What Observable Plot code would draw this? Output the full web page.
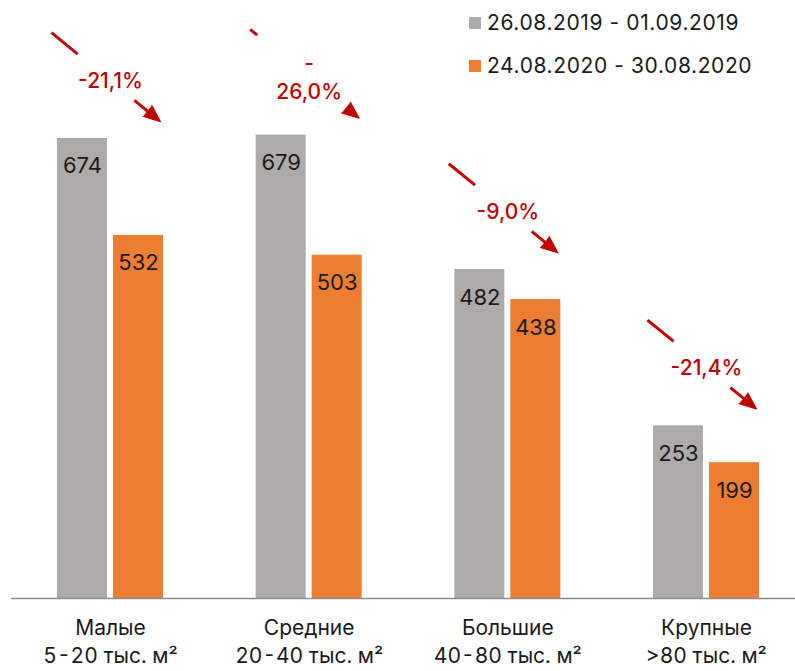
<!DOCTYPE html>
<html><head><meta charset="utf-8">
<script src="https://cdn.jsdelivr.net/npm/d3@7"></script>
<script src="https://cdn.jsdelivr.net/npm/@observablehq/plot@0.6"></script>
<style>
body{margin:0;background:#fff;font-family:Inter,sans-serif;}
#wrap{position:relative;width:795px;height:671px;}
.legend{position:absolute;left:469px;top:0;font-size:21px;letter-spacing:0.6px;color:#1a1a1a;}
.item{position:absolute;left:0;white-space:nowrap;display:flex;align-items:center;height:24px;}
.sw{width:12px;height:12px;margin-right:6px;margin-top:2px;}
</style></head><body><div id="wrap"></div>
<script>
const categories = ["Малые\n5-20 тыс. м²", "Средние\n20-40 тыс. м²", "Большие\n40-80 тыс. м²", "Крупные\n>80 тыс. м²"];
const seriesNames = ["26.08.2019 - 01.09.2019", "24.08.2020 - 30.08.2020"];
const values2019 = [674, 679, 482, 253];
const values2020 = [532, 503, 438, 199];
const changeLabels = ["-21,1%", "-\n26,0%", "-9,0%", "-21,4%"];

const colors = ["#AEAAAA", "#ED7D31"];
const red = "#C00000";
const ink = "#1a1a1a";

const rows = categories.map((c, i) => ({i, cat: c, v19: values2019[i], v20: values2020[i], change: changeLabels[i]}));

// bar geometry within a group (in group units)
const inner = 0.0151, outer = 0.2668;
// arrow geometry relative to group center and first-series value
const A = {u0: -0.297, u1: 0.252, up: 155, down: 24.6};
const pxPerU = 198.67, pxPerV = 0.6825;
const rot = Math.atan2((A.u1 - A.u0) * pxPerU, -(A.up - A.down) * pxPerV) * 180 / Math.PI;
const pt = (r, t) => ({x: r.i + A.u0 + (A.u1 - A.u0) * t, y: r.v19 + A.up + (A.down - A.up) * t});
const segs = [];
rows.forEach(r => {
  const multi = r.change.includes("\n");
  const g = multi ? [0.065, 0.9] : [0.24, 0.76];
  const a = pt(r, 0), b = pt(r, g[0]);
  segs.push({x1: a.x, y1: a.y, x2: b.x, y2: b.y});
  if (g[1] < 0.88) {
    const c = pt(r, g[1]), d = pt(r, 0.9);
    segs.push({x1: c.x, y1: c.y, x2: d.x, y2: d.y});
  }
});
const heads = rows.map(r => pt(r, 1));
const labels = rows.map(r => ({...pt(r, 0.5), x: r.i, text: r.change}));

const chart = Plot.plot({
  width: 795, height: 671,
  marginLeft: 11, marginRight: 0, marginTop: 52, marginBottom: 73,
  style: {fontFamily: "Inter, sans-serif", background: "#fff"},
  x: {type: "linear", domain: [-0.4983, 3.448], axis: null},
  y: {domain: [0, 800], axis: null},
  marks: [
    Plot.rectY(rows, {x1: d => d.i - outer, x2: d => d.i - inner, y: "v19", fill: colors[0]}),
    Plot.rectY(rows, {x1: d => d.i + inner, x2: d => d.i + outer, y: "v20", fill: colors[1]}),
    Plot.ruleY([0], {stroke: "#8c8c8c", strokeWidth: 1.5}),
    Plot.text(rows, {x: "i", y: "v19", text: d => String(d.v19), dx: -28, dy: 35, lineAnchor: "bottom", fontSize: 22, fill: ink}),
    Plot.text(rows, {x: "i", y: "v20", text: d => String(d.v20), dx: 28, dy: 35, lineAnchor: "bottom", fontSize: 22, fill: ink}),
    Plot.link(segs, {x1: "x1", y1: "y1", x2: "x2", y2: "y2", stroke: red, strokeWidth: 3, strokeLinecap: "butt"}),
    Plot.vector(heads, {x: "x", y: "y", rotate: rot, length: 17, r: 7, shape: "spike", anchor: "end", fill: red, stroke: red, strokeWidth: 1}),
    Plot.text(labels, {x: "x", y: "y", text: "text", fontSize: 21, fontWeight: 500, fill: red, lineHeight: 1.4, dy: 1}),
    Plot.axisX({ticks: [0, 1, 2, 3], tickFormat: i => categories[i], tickSize: 0, tickPadding: 17, fontSize: 21, lineHeight: 1.33, label: null, fill: ink})
  ]
});

const wrap = document.getElementById("wrap");
wrap.appendChild(chart);
const legend = document.createElement("div");
legend.className = "legend";
seriesNames.forEach((name, k) => {
  const it = document.createElement("div");
  it.className = "item";
  it.style.top = (10 + k * 43) + "px";
  const sw = document.createElement("span");
  sw.className = "sw"; sw.style.background = colors[k];
  const tx = document.createElement("span");
  tx.textContent = name;
  it.appendChild(sw); it.appendChild(tx);
  legend.appendChild(it);
});
wrap.appendChild(legend);
</script>
</body></html>
